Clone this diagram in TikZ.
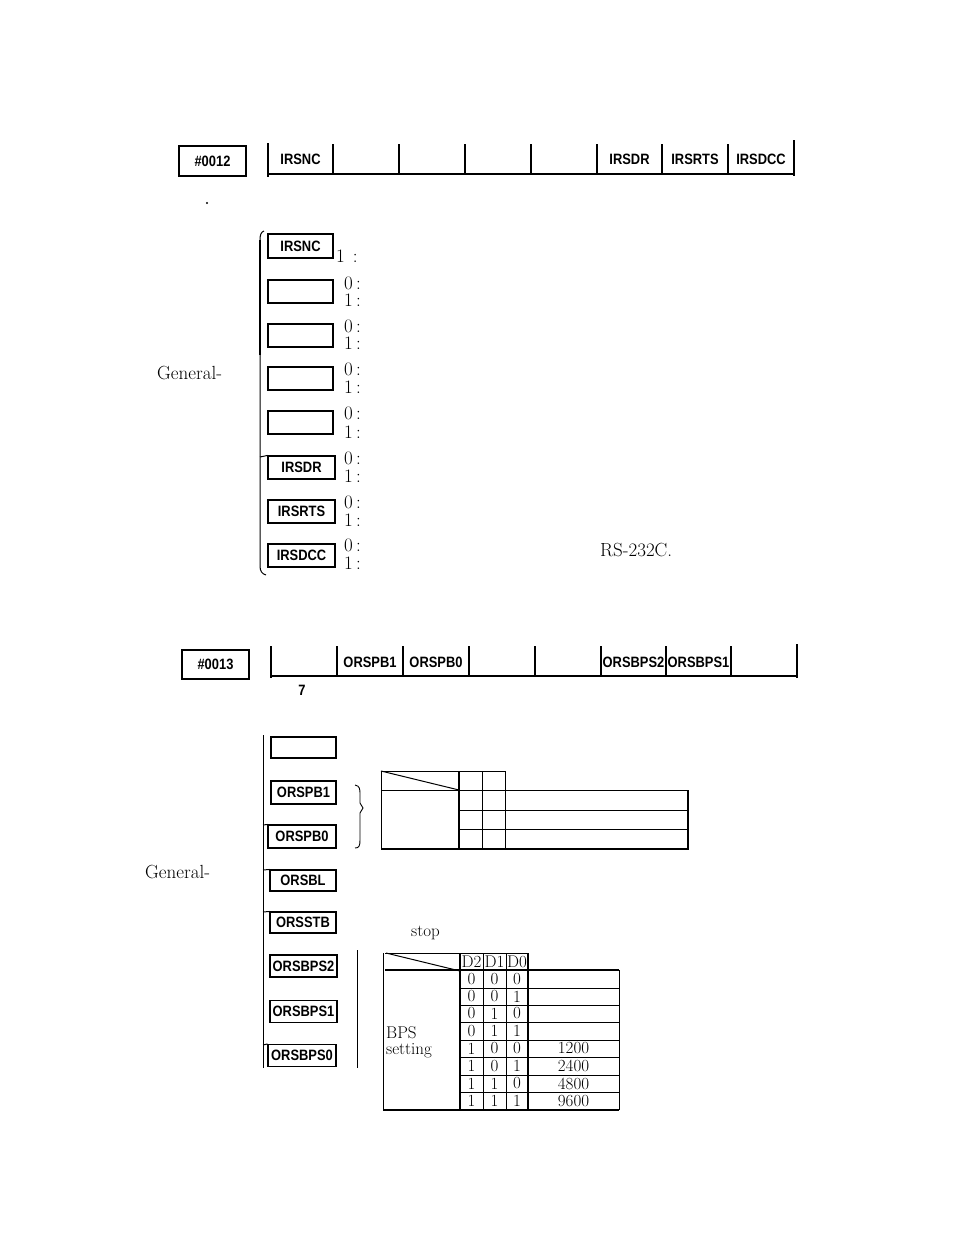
\documentclass[tikz,border=0pt]{standalone}
\usepackage{fontspec}
\newfontfamily\labfont{Liberation Sans}[FakeStretch=0.86]
\begin{document}
\begin{tikzpicture}[x=1pt,y=-1pt,
  lab/.style={font=\labfont\bfseries\fontsize{15}{15}\selectfont, inner sep=0pt},
  ser/.style={font=\fontsize{19}{19}\selectfont, inner sep=0pt, anchor=west},
  tab/.style={font=\fontsize{17}{17}\selectfont, inner sep=0pt},
  bitbox/.style={draw, line width=1.1pt, minimum width=65pt, minimum height=23pt, inner sep=0pt, font=\labfont\bfseries\fontsize{15}{15}\selectfont},
  regline/.style={line width=1.1pt},
  heavy/.style={line width=2.2pt},
  tline/.style={line width=1pt},
  theavy/.style={line width=1.8pt}]
\useasboundingbox (0,0) rectangle (954,1239);

% ---------- #0012 register ----------
\node[bitbox, minimum width=67pt, minimum height=30pt] (n12) at (212.5,161) {\#0012};
\draw[regline] (268,143) -- (268,177);
\draw[heavy] (267,174) -- (794,174);
\foreach \x in {333,399,465,531,597,662,728} \draw[regline] (\x,144) -- (\x,174);
\draw[regline] (794,140) -- (794,176);
\node[lab] (ra1) at (300.5,159) {IRSNC};
\node[lab] (ra6) at (629.5,159) {IRSDR};
\node[lab] (ra7) at (695,159) {IRSRTS};
\node[lab] (ra8) at (761,159) {IRSDCC};
\fill (207,203) circle (1.1);

% bracket
\draw[line width=1pt] (264,231) .. controls (261,232) and (260,235) .. (260,240) -- (260,566) .. controls (260,571) and (262,574) .. (266,575);
\draw[line width=1.8pt] (260,240) -- (260,355);

\node[bitbox, minimum height=24pt] (b1) at (300.5,246) {IRSNC};
\node[bitbox] (b2) at (300.5,291.5) {};
\node[bitbox] (b3) at (300.5,335.5) {};
\node[bitbox] (b4) at (300.5,378.5) {};
\node[bitbox] (b5) at (300.5,422.5) {};
\node[bitbox, minimum width=67pt] (b6) at (301.5,467.5) {IRSDR};
\node[bitbox, minimum width=67pt] (b7) at (301.5,511.5) {IRSRTS};
\node[bitbox, minimum width=67pt] (b8) at (301.5,555.5) {IRSDCC};
\draw[line width=1pt] (260,457) -- (b6.north west);

\node[ser] (v1) at (336,256) {1\hspace{8pt}:};
\foreach \a/\b [count=\i from 2] in {283/300,326/343,369/387,413/432,458/476,502/520,545/563}{
  \node[ser] (z\i) at (344,\a) {0\,:};
  \node[ser] (o\i) at (344,\b) {1\,:};
}
\node[ser] (rs) at (600,550) {RS-232C.};
\node[ser] (gen1) at (157,373) {General-};

% ---------- #0013 register ----------
\node[bitbox, minimum width=67pt, minimum height=29pt] (n13) at (215.5,664.5) {\#0013};
\draw[regline] (271,646) -- (271,678);
\draw[heavy] (270,676) -- (797,676);
\foreach \x in {337,403,469,535,601,666,731} \draw[regline] (\x,646) -- (\x,676);
\draw[heavy] (797,644) -- (797,678);
\node[lab] (rb2) at (370,662) {ORSPB1};
\node[lab] (rb3) at (436,662) {ORSPB0};
\node[lab] (rb6) at (633.5,662) {ORSBPS2};
\node[lab] (rb7) at (698.5,662) {ORSBPS1};
\node[lab] (seven) at (302,690) {7};

\draw[line width=1pt] (263,735) -- (263,1068);
\node[bitbox, minimum height=21pt] (c1) at (303.5,747.5) {};
\node[bitbox] (c2) at (303.5,792.5) {ORSPB1};
\node[bitbox, minimum width=68pt] (c3) at (302,836.5) {ORSPB0};
\node[bitbox, minimum width=66pt, minimum height=21pt] (c4) at (303,880.5) {ORSBL};
\node[bitbox, minimum width=66pt, minimum height=21pt] (c5) at (303,922.5) {ORSSTB};
\node[bitbox, minimum width=67pt, minimum height=22pt] (c6) at (303.5,966) {ORSBPS2};
\node[bitbox, minimum width=67pt, minimum height=22pt] (c7) at (303.5,1011.5) {ORSBPS1};
\node[bitbox, minimum width=68pt, minimum height=22pt] (c8) at (302,1055.5) {ORSBPS0};
\draw[line width=1pt] (263,825) -- (c3.north west);
\draw[line width=1pt] (263,870) -- (c4.north west);
\draw[line width=1pt] (263,912) -- (c5.north west);
\draw[line width=1pt] (263,1045) -- (c8.north west);
\node[ser] (gen2) at (145,872) {General-};

% brace
\draw[line width=0.9pt] (355,785) .. controls (360,786) and (360,789) .. (360,795) -- (360,803) -- (363,808) -- (360,813) -- (360,840) .. controls (360,846) and (359,848) .. (355,848);

% table 1
\draw[tline] (381,771) -- (505,771);
\draw[tline] (381,771) -- (381,849);
\draw[tline] (381,771) -- (459,790);
\draw[tline] (381,790) -- (688,790);
\draw[tline] (459,810) -- (688,810);
\draw[tline] (459,829) -- (688,829);
\draw[theavy] (381,849) -- (688,849);
\draw[theavy] (459,771) -- (459,849);
\draw[tline] (482,771) -- (482,849);
\draw[tline] (505,771) -- (505,849);
\draw[theavy] (688,790) -- (688,850);

% stop
\node[ser, font=\fontsize{17}{17}\selectfont] (stop) at (411,933) {stop};

% table 2
\draw[tline] (357,950) -- (357,1068);
\draw[tline] (383,953) -- (383,1111);
\draw[tline] (385,953) -- (528,953);
\draw[tline] (386,953) -- (460,971);
\draw[theavy] (385,970) -- (619,970);
\foreach \y in {988,1005,1022,1040,1057,1075,1092} \draw[tline] (460,\y) -- (619,\y);
\draw[theavy] (383,1110) -- (619,1110);
\draw[theavy] (460,953) -- (460,1110);
\draw[tline] (483,953) -- (483,1110);
\draw[tline] (506,953) -- (506,1110);
\draw[theavy] (528,953) -- (528,1110);
\draw[tline] (619,970) -- (619,1110);
\node[tab] (hd2) at (471.5,961.5) {D2};
\node[tab] (hd1) at (494.5,961.5) {D1};
\node[tab] (hd0) at (517,961.5) {D0};
\foreach \a/\b/\c/\yy [count=\i] in {0/0/0/979,0/0/1/996.5,0/1/0/1013.5,0/1/1/1031,1/0/0/1048.5,1/0/1/1066,1/1/0/1083.5,1/1/1/1101}{
  \node[tab] (d2r\i) at (471.5,\yy) {\a};
  \node[tab] (d1r\i) at (494.5,\yy) {\b};
  \node[tab] (d0r\i) at (517,\yy) {\c};
}
\node[tab] (bp5) at (573.5,1048.5) {1200};
\node[tab] (bp6) at (573.5,1066) {2400};
\node[tab] (bp7) at (573.5,1083.5) {4800};
\node[tab] (bp8) at (573.5,1101) {9600};
\node[tab, anchor=west] (bps) at (386,1033) {BPS};
\node[tab, anchor=west] (sett) at (386,1051) {setting};
\end{tikzpicture}
\end{document}
